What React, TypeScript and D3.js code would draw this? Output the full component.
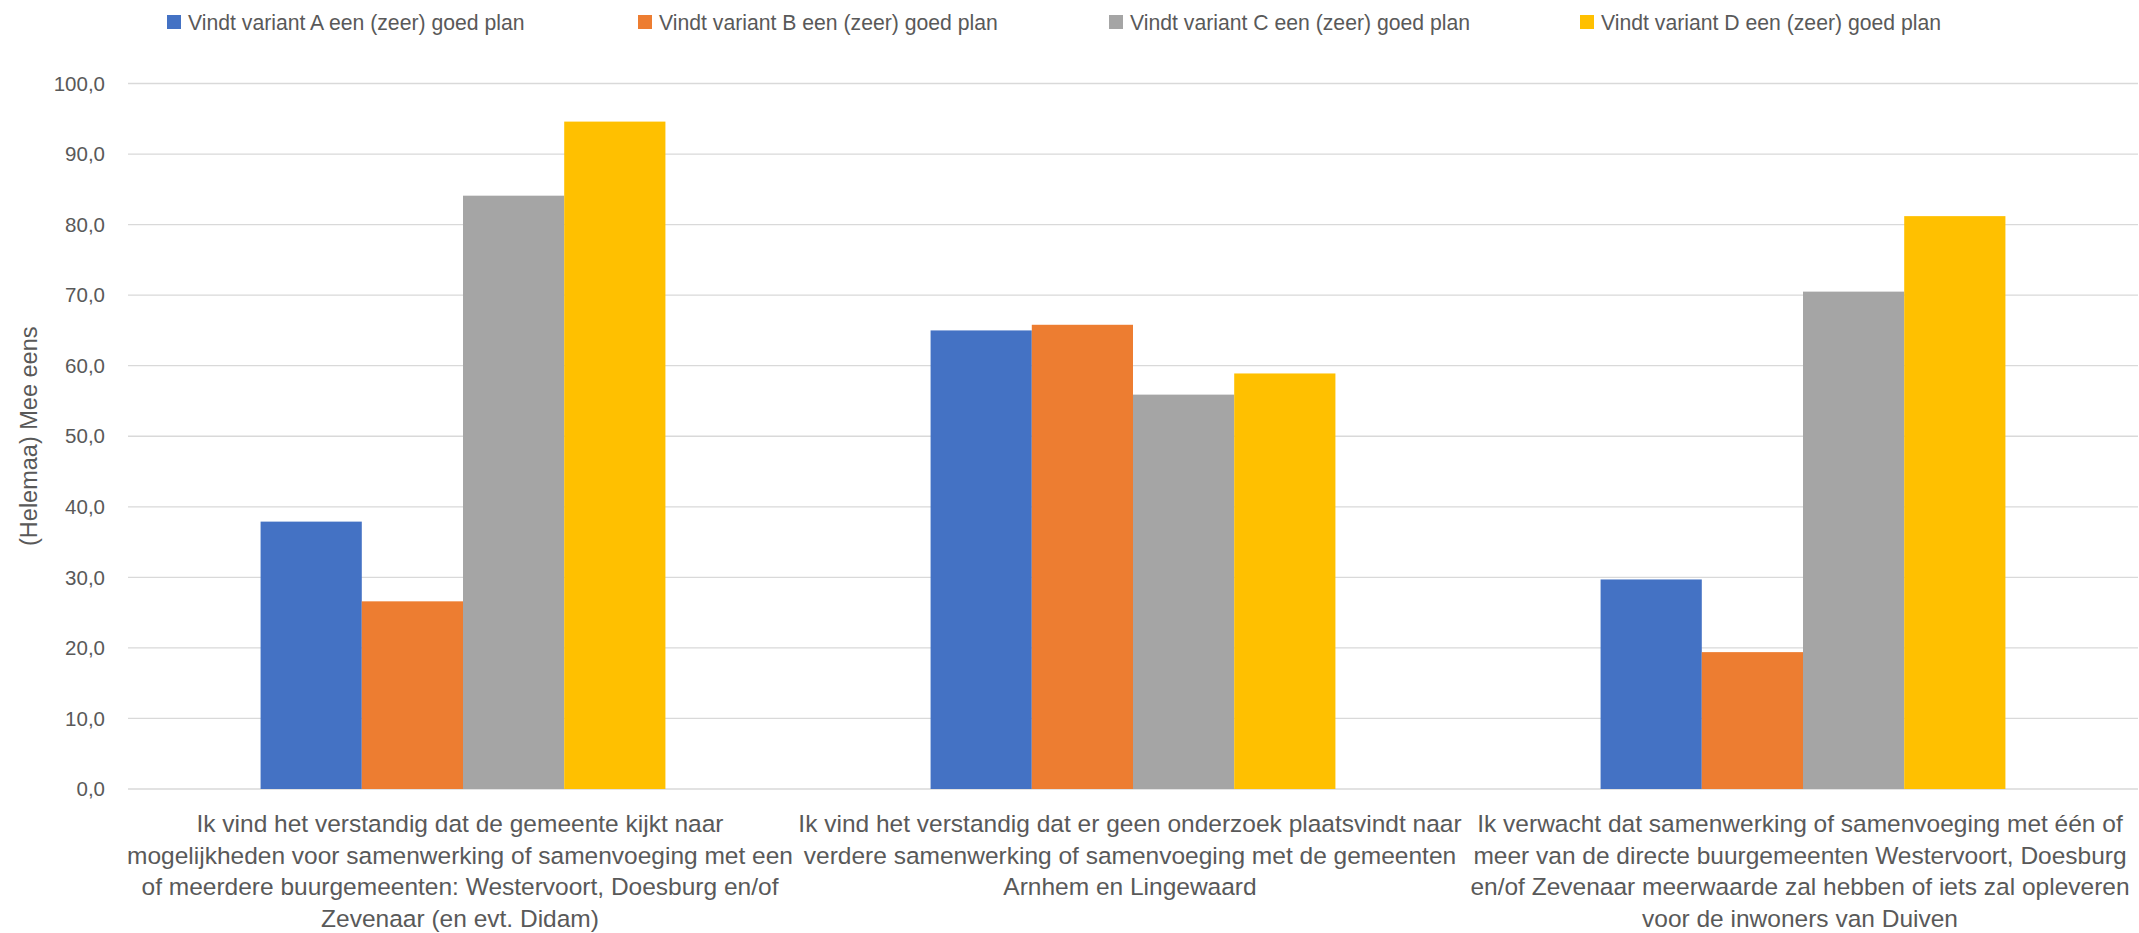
import React from "react";
import * as d3 from "d3";

const categories: string[][] = [
  [
    "Ik vind het verstandig dat de gemeente kijkt naar",
    "mogelijkheden voor samenwerking of samenvoeging met een",
    "of meerdere buurgemeenten: Westervoort, Doesburg en/of",
    "Zevenaar (en evt. Didam)",
  ],
  [
    "Ik vind het verstandig dat er geen onderzoek plaatsvindt naar",
    "verdere samenwerking of samenvoeging met de gemeenten",
    "Arnhem en Lingewaard",
  ],
  [
    "Ik verwacht dat samenwerking of samenvoeging met één of",
    "meer van de directe buurgemeenten Westervoort, Doesburg",
    "en/of Zevenaar meerwaarde zal hebben of iets zal opleveren",
    "voor de inwoners van Duiven",
  ],
];

const seriesNames = [
  "Vindt variant A een (zeer) goed plan",
  "Vindt variant B een (zeer) goed plan",
  "Vindt variant C een (zeer) goed plan",
  "Vindt variant D een (zeer) goed plan",
];

const variantA = [37.9, 65.0, 29.7];
const variantB = [26.6, 65.8, 19.4];
const variantC = [84.1, 55.9, 70.5];
const variantD = [94.6, 58.9, 81.2];
const seriesValues = [variantA, variantB, variantC, variantD];

const colors = ["#4472C4", "#ED7D31", "#A5A5A5", "#FFC000"];

const yTicks = [0, 10, 20, 30, 40, 50, 60, 70, 80, 90, 100];
const yTitle = "(Helemaa) Mee eens";

const W = 2139;
const H = 933;
const plotLeft = 128;
const plotRight = 2138;
const plotTop = 83.5;
const plotBottom = 789;
const textColor = "#595959";
const font = "'Liberation Sans', Arial, sans-serif";

export default function App() {
  const catIdx = categories.map((_, i) => String(i));
  const x0 = d3.scaleBand<string>().domain(catIdx).range([plotLeft, plotRight]).paddingInner(0).paddingOuter(0);
  const x1 = d3
    .scaleBand<string>()
    .domain(seriesNames)
    .range([0, x0.bandwidth()])
    .paddingInner(0)
    .paddingOuter(1.31);
  const y = d3.scaleLinear().domain([0, 100]).range([plotBottom, plotTop]);
  const fmt = (v: number) => d3.format(".1f")(v).replace(".", ",");

  const legendX0 = 167;
  const legendStep = 471;

  return (
    <svg width={W} height={H} style={{ position: "absolute", left: 0, top: 0, background: "#fff" }} fontFamily={font}>
      <rect x={0} y={0} width={W} height={H} fill="#fff" />
      {yTicks.map((t) => (
        <line key={t} x1={plotLeft} x2={plotRight} y1={y(t)} y2={y(t)} stroke="#D9D9D9" strokeWidth={1.3} />
      ))}
      {yTicks.map((t) => (
        <text key={"l" + t} x={105} y={y(t)} dy="0.35em" textAnchor="end" fontSize={20.5} fill={textColor}>
          {fmt(t)}
        </text>
      ))}
      <text
        transform={`translate(29, ${(plotTop + plotBottom) / 2}) rotate(-90)`}
        textAnchor="middle"
        dy="0.35em"
        fontSize={23.5}
        fill={textColor}
      >
        {yTitle}
      </text>
      {seriesValues.map((vals, si) =>
        vals.map((v, ci) => (
          <rect
            key={si + "-" + ci}
            x={(x0(String(ci)) as number) + (x1(seriesNames[si]) as number)}
            y={y(v)}
            width={x1.bandwidth()}
            height={y(0) - y(v)}
            fill={colors[si]}
          />
        ))
      )}
      {categories.map((lines, ci) => {
        const cx = (x0(String(ci)) as number) + x0.bandwidth() / 2 - 3;
        return (
          <text key={"c" + ci} x={cx} textAnchor="middle" fontSize={24.5} fill={textColor}>
            {lines.map((ln, li) => (
              <tspan key={li} x={cx} y={832 + li * 31.7}>
                {ln}
              </tspan>
            ))}
          </text>
        );
      })}
      {seriesNames.map((n, i) => (
        <g key={"lg" + i} transform={`translate(${legendX0 + i * legendStep}, 0)`}>
          <rect x={0} y={15} width={14} height={14} fill={colors[i]} />
          <text x={21} y={29.5} fontSize={21.2} fill={textColor}>
            {n}
          </text>
        </g>
      ))}
    </svg>
  );
}
